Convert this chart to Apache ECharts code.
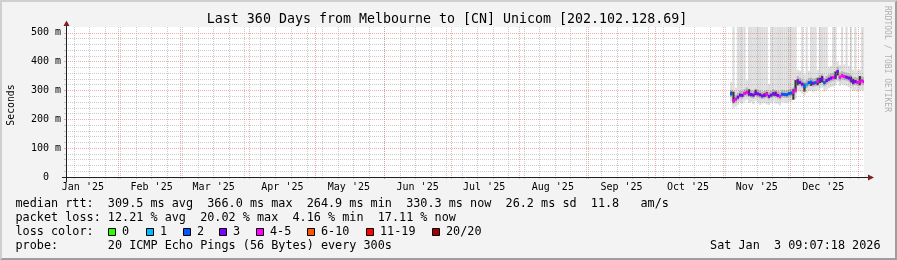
<!DOCTYPE html>
<html><head><meta charset="utf-8">
<script src="https://cdn.jsdelivr.net/npm/echarts@6/dist/echarts.min.js"></script>
<style>html,body{margin:0;padding:0;background:#f3f3f3;}#c{width:897px;height:260px;}</style>
</head><body><div id="c"></div>
<script>
// ---------- data ----------
const titleText = 'Last 360 Days from Melbourne to [CN] Unicom [202.102.128.69]';
const rangeStart = Date.UTC(2025, 0, 8, 9, 7, 18);
const rangeEnd = Date.UTC(2026, 0, 3, 9, 7, 18);
const firstDay = Date.UTC(2025, 10, 4);
const DAY = 86400000;

const xTickLabels = ["Jan '25","Feb '25","Mar '25","Apr '25","May '25","Jun '25","Jul '25","Aug '25","Sep '25","Oct '25","Nov '25","Dec '25"];
const yTicks = [0, 100, 200, 300, 400, 500];
const yTickLabels = ['0  ', '100 m', '200 m', '300 m', '400 m', '500 m'];
const yMax = 520;

// median rtt per day (ms), Nov 4 2025 .. Jan 3 2026
const medianRtt = [288,264.9,270,277,284,283,290,294,289,286,284,291,288,285,281,283,286,280,284,289,286,283,280,287,286,285,289,291,294,302,334,328,322,314,320,327,329,325,327,331,336,340,327,334,339,343,345,348,366.0,346,351,348,346,343,337,329,331,328,330,333,330.3];
// packet loss per day (%)
const lossPct = [9,18,17,13,12,14,16,17,13,12,11,13,12,14,13,12,17,13,13,11,12,13,17,9,8,10,9,10,16,18,12,13,11,8,4.16,9,8,12,9,17,14,12,10,13,11,12,17,14,14,18,20.02,17,14,14,13,12,13,16,18,17,17.11];
// smoke: lowest ping, inner band low/high, dark core low/high, highest ping (ms)
const minPing = [262,238,244,250,258,255,262,268,256,260,252,264,258,250,255,256,252,250,257,262,255,254,248,260,258,256,262,262,268,270,300,296,290,282,292,298,300,294,298,302,306,310,296,302,308,312,314,318,330,316,322,318,316,312,306,298,300,296,300,302,298];
const innerLow = [278,254,258,266,272,272,280,282,278,275,272,280,277,273,270,272,275,269,273,278,275,272,269,276,275,274,278,280,283,290,322,316,310,302,308,315,317,313,315,319,324,328,315,322,327,331,333,336,352,334,339,336,334,331,325,317,319,316,318,321,318];
const innerHigh = [302,280,284,292,298,298,305,310,304,301,299,306,303,300,296,298,301,295,299,304,301,298,295,302,301,300,304,306,310,320,350,344,338,330,336,343,345,341,343,347,352,356,343,350,355,359,361,364,382,362,367,364,362,359,353,345,347,344,346,349,346];
const coreLow = [284,258,266,273,280,279,286,290,282,280,280,284,284,281,277,278,282,276,280,282,281,279,276,283,282,281,285,287,268,296,318,324,318,296,316,323,316,321,323,318,326,328,323,330,335,339,341,340,352,342,347,344,342,339,328,322,327,324,318,329,326];
const coreHigh = [296,296,274,281,288,287,294,298,304,290,288,302,292,289,285,290,294,284,288,293,296,287,284,291,290,289,293,295,304,336,338,332,326,324,324,331,333,329,331,342,344,350,331,338,343,347,349,366,369,350,355,352,350,347,348,340,335,332,350,337,334];
const maxPing = [330,600,310,600,600,600,600,335,600,600,600,600,600,600,600,600,600,322,600,600,600,600,600,600,600,600,600,600,600,600,372,368,600,355,600,368,600,600,600,372,600,600,600,600,380,385,600,600,400,388,600,390,600,385,600,372,600,370,372,600,600];

const rttStats = [309.5, 366.0, 264.9, 330.3];
const rttSd = 26.2;
const amps = 11.8;
const lossStats = [12.21, 20.02, 4.16, 17.11];
const lossLabels = ['0','1','2','3','4-5','6-10','11-19','20/20'];
const lossMaxCount = [0,1,2,3,5,10,19,20];
const lossColors = ['#26ff00','#00b8ff','#0059ff','#7e00ff','#ff00ff','#ff5500','#ff0000','#a10000'];
const pingsPerStep = 20;
const probeText = '20 ICMP Echo Pings (56 Bytes) every 300s';
const dateText = 'Sat Jan  3 09:07:18 2026';

// ---------- build ----------
const days = medianRtt.map((_, i) => firstDay + i * DAY);
const monthStarts = [];
const monthMids = [];
for (let m = 0; m < 12; m++) {
  monthStarts.push(Date.UTC(2025, m + 1, 1));
  monthMids.push(Date.UTC(2025, m, 16));
}
const weekTicks = [];
for (let t = Date.UTC(2025, 0, 12); t < rangeEnd; t += 7 * DAY) weekTicks.push(t);
const yMinor = [];
for (let v = 20; v < yMax; v += 20) if (v % 100 !== 0) yMinor.push(v);

function lossColor(pct) {
  const lost = pct / 100 * pingsPerStep;
  for (let i = 0; i < lossMaxCount.length; i++) if (lost <= lossMaxCount[i] + 1e-9) return lossColors[i];
  return lossColors[lossColors.length - 1];
}

const MONO = "'DejaVu Sans Mono', monospace";
const minorGrid = 'rgba(143,143,143,0.45)';
const majorGrid = 'rgba(222,80,80,0.45)';

function band(loArr, hiArr, color, z) {
  return {
    type: 'custom', clip: true, z: z, silent: true,
    xAxisIndex: 0, yAxisIndex: 0,
    data: days.map((t, i) => [t, loArr[i], hiArr[i]]),
    encode: { x: 0, y: [1, 2] },
    renderItem: (params, api) => {
      const t = api.value(0);
      const p0 = api.coord([t, api.value(1)]);
      const p1 = api.coord([t + DAY, api.value(2)]);
      return { type: 'rect', shape: { x: p0[0], y: p1[1], width: p1[0] - p0[0], height: p0[1] - p1[1] }, style: { fill: color } };
    }
  };
}

const medianSeries = {
  type: 'custom', clip: true, z: 5, silent: true,
  xAxisIndex: 0, yAxisIndex: 0,
  data: days.map((t, i) => [t, medianRtt[i], lossPct[i]]),
  encode: { x: 0, y: 1 },
  renderItem: (params, api) => {
    const t = api.value(0);
    const p0 = api.coord([t, api.value(1)]);
    const p1 = api.coord([t + DAY, api.value(1)]);
    return { type: 'rect', shape: { x: p0[0], y: p0[1] - 1.5, width: p1[0] - p0[0], height: 3 }, style: { fill: lossColor(api.value(2)) } };
  }
};

// ---------- text / decorations ----------
const graphics = [];
graphics.push({ type: 'polygon', silent: true, shape: { points: [[0,0],[897,0],[895,2],[2,2],[2,258],[0,260]] }, style: { fill: '#cfcfcf' } });
graphics.push({ type: 'polygon', silent: true, shape: { points: [[897,0],[897,260],[0,260],[2,258],[895,258],[895,2]] }, style: { fill: '#9e9e9e' } });
graphics.push({ type: 'line', silent: true, z: 20, shape: { x1: 62, y1: 177.5, x2: 869, y2: 177.5 }, style: { stroke: '#1f1f1f', lineWidth: 1 } });
graphics.push({ type: 'line', silent: true, z: 20, shape: { x1: 66.5, y1: 182, x2: 66.5, y2: 25 }, style: { stroke: '#1f1f1f', lineWidth: 1 } });
graphics.push({ type: 'polygon', silent: true, z: 21, shape: { points: [[868,174.5],[868,180.5],[874,177.5]] }, style: { fill: '#801f1f' } });
graphics.push({ type: 'polygon', silent: true, z: 21, shape: { points: [[63.5,26],[69.5,26],[66.5,20.5]] }, style: { fill: '#801f1f' } });

function txt(x, y, text, opts) {
  const o = opts || {};
  graphics.push({
    type: 'text', silent: true, x, y, rotation: o.rotation || 0, z: 30,
    style: { text, fontFamily: MONO, fontSize: o.size || 11.8, fill: o.color || '#000', align: o.align || 'left', verticalAlign: 'middle' }
  });
}
txt(447, 19.5, titleText, { size: 13.3, align: 'center' });
txt(11, 105, 'Seconds', { size: 9.8, align: 'center', rotation: Math.PI / 2 });
txt(887, 59, 'RRDTOOL / TOBI OETIKER', { size: 8, align: 'center', rotation: -Math.PI / 2, color: '#b0b0b0' });

const r1 = 204, r2 = 218, r3 = 232, r4 = 246;
const rttSuffix = [' ms avg', ' ms max', ' ms min', ' ms now'];
txt(15.5, r1, 'median rtt:  ' + rttStats.map((v, i) => v.toFixed(1) + rttSuffix[i]).join('  ') + '  ' + rttSd.toFixed(1) + ' ms sd  ' + amps.toFixed(1) + '   am/s');
const lossSuffix = [' % avg', ' % max', ' % min', ' % now'];
txt(15.5, r2, 'packet loss: ' + lossStats.map((v, i) => v.toFixed(2) + lossSuffix[i]).join('  '));

txt(15.5, r3, 'loss color:');
const boxX = [108, 146, 183, 219, 256, 307, 366, 432];
lossLabels.forEach((lab, i) => {
  graphics.push({ type: 'rect', silent: true, z: 30, shape: { x: boxX[i] + 0.5, y: 228.5, width: 7, height: 7 }, style: { fill: lossColors[i], stroke: '#000', lineWidth: 1 } });
  txt(boxX[i] + 14, r3, lab);
});

txt(15.5, r4, 'probe:       ' + probeText);
txt(880.5, r4, dateText, { align: 'right' });

// ---------- chart ----------
const chart = echarts.init(document.getElementById('c'), null, { renderer: 'canvas' });
chart.setOption({
  animation: false,
  backgroundColor: '#f3f3f3',
  grid: { left: 66, right: 33, top: 27, bottom: 83, containLabel: false, outerBoundsMode: 'none', show: true, backgroundColor: '#ffffff', borderWidth: 0 },
  xAxis: [
    {
      type: 'value', min: rangeStart, max: rangeEnd, position: 'bottom', z: 3,
      axisLine: { show: false },
      axisTick: { show: true, customValues: monthStarts, length: 2, lineStyle: { color: majorGrid } },
      axisLabel: {
        show: true, customValues: monthMids, margin: 5, fontFamily: MONO, fontSize: 10, color: '#000',
        formatter: (v) => xTickLabels[new Date(v).getUTCMonth()]
      },
      splitLine: { show: true, lineStyle: { color: majorGrid, type: [1, 1], width: 1 } }
    },
    {
      type: 'value', min: rangeStart, max: rangeEnd, position: 'bottom', z: 3,
      axisLine: { show: false },
      axisTick: { show: true, customValues: weekTicks, length: 2, lineStyle: { color: minorGrid } },
      axisLabel: { show: false },
      splitLine: { show: true, lineStyle: { color: minorGrid, type: [1, 1], width: 1 } }
    }
  ],
  yAxis: [
    {
      type: 'value', min: 0, max: yMax, position: 'left', z: 3,
      axisLine: { show: false },
      axisTick: { show: true, customValues: yTicks, length: 2, lineStyle: { color: majorGrid } },
      axisLabel: {
        show: true, customValues: yTicks, margin: 5, fontFamily: MONO, fontSize: 10, color: '#000',
        formatter: (v) => yTickLabels[yTicks.indexOf(v)]
      },
      splitLine: { show: true, lineStyle: { color: majorGrid, type: [1, 1], width: 1 } }
    },
    {
      type: 'value', min: 0, max: yMax, position: 'left', z: 3,
      axisLine: { show: false },
      axisTick: { show: true, customValues: yMinor, length: 2, lineStyle: { color: minorGrid } },
      axisLabel: { show: false },
      splitLine: { show: true, lineStyle: { color: minorGrid, type: [1, 1], width: 1 } }
    }
  ],
  series: [
    band(minPing, maxPing, '#dddddd', 2),
    band(innerLow, innerHigh, '#b4b4b4', 2),
    band(coreLow, coreHigh, '#3a3a3a', 2),
    medianSeries
  ],
  graphic: graphics
});
</script></body></html>
